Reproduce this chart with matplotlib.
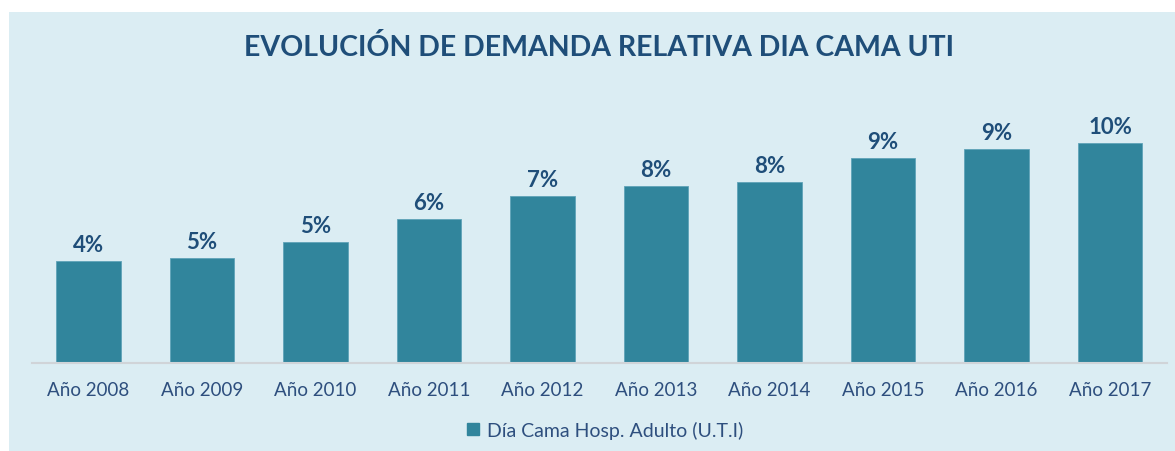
import matplotlib.pyplot as plt
from matplotlib.patches import Rectangle
from matplotlib.lines import Line2D

years = ["Año 2008", "Año 2009", "Año 2010", "Año 2011", "Año 2012",
         "Año 2013", "Año 2014", "Año 2015", "Año 2016", "Año 2017"]
demanda = [4.44, 4.57, 5.26, 6.26, 7.26, 7.70, 7.87, 8.92, 9.31, 9.57]
serie = "Día Cama Hosp. Adulto (U.T.I)"
titulo = "EVOLUCIÓN DE DEMANDA RELATIVA DIA CAMA UTI"

bg = "#DBEDF3"
bar_color = "#31859C"
dark = "#1F4E79"
tick_color = "#2E4F7E"

plt.rcParams["font.family"] = ["Lato", "DejaVu Sans"]

W, H = 1175, 452
fig = plt.figure(figsize=(W / 100, H / 100), dpi=100)
fig.patch.set_facecolor("white")
fig.patches.append(Rectangle((9 / W, 0), 1 - 9 / W, 1 - 13 / H,
                             transform=fig.transFigure, facecolor=bg,
                             edgecolor="none", zorder=-10))

# axes placed in pixel terms: baseline at y=364 from top
left, right = 31.75, 1166.75
bottom_px = H - 364
top_px = H - 100
ax = fig.add_axes([left / W, bottom_px / H, (right - left) / W, (top_px - bottom_px) / H])
ax.set_facecolor("none")
px_per_pct = 1 / 0.0435
ax.set_ylim(0, (top_px - bottom_px) / px_per_pct)
ax.set_xlim(-0.5, len(years) - 0.5)

x = range(len(years))
ax.bar(x, demanda, width=0.57, color=bar_color, edgecolor="#5FA3B8",
       linewidth=0.6, zorder=2)
for xi, v in zip(x, demanda):
    ax.text(xi, v + 0.25, f"{v:.0f}%", ha="center", va="bottom",
            fontsize=16, fontweight="bold", color=dark)

for s in ["top", "right", "left"]:
    ax.spines[s].set_visible(False)
ax.spines["bottom"].set_color("#D0D4D8")
ax.spines["bottom"].set_linewidth(1.5)
ax.set_yticks([])
ax.set_xticks(list(x))
ax.set_xticklabels(years, fontsize=13.5, color=tick_color)
ax.tick_params(axis="x", length=0, pad=13)

fig.text(0.51, 1 - 48 / H, titulo, ha="center", va="center",
         fontsize=20.5, fontweight="bold", color=dark)

handle = Line2D([], [], marker="s", linestyle="none", markersize=8,
                markerfacecolor=bar_color, markeredgecolor=bar_color)
fig.legend([handle], [serie], loc="center", bbox_to_anchor=(603 / W, 1 - 431 / H),
           frameon=False, fontsize=14, labelcolor=tick_color,
           handletextpad=0.2, handlelength=1.0)

fig.savefig("out.png", dpi=100, facecolor=fig.get_facecolor())
